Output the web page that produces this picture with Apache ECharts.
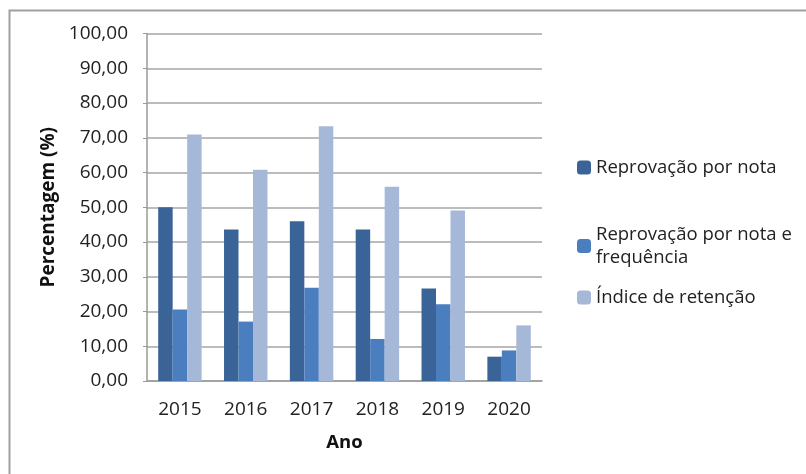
<!DOCTYPE html>
<html><head><meta charset="utf-8">
<script src="https://cdn.jsdelivr.net/npm/echarts@6/dist/echarts.min.js"></script>
<style>html,body{margin:0;padding:0;background:#fff}#c{width:806px;height:474px}</style>
</head><body><div id="c"></div>
<script>
const categories = ['2015','2016','2017','2018','2019','2020'];
const seriesNames = ['Reprovação por nota','Reprovação por nota e frequência','Índice de retenção'];
const reprovacaoNota = [50.0, 43.6, 46.0, 43.6, 26.6, 7.0];
const reprovacaoNotaFreq = [20.6, 17.1, 26.8, 12.1, 22.1, 8.8];
const indiceRetencao = [70.9, 60.8, 73.3, 55.9, 49.1, 16.0];
const colors = ['#3A6497', '#4B7EBE', '#A6B8D8'];
const font = 'Open Sans';

const chart = echarts.init(document.getElementById('c'));
const legendText = {fontFamily: font, fontSize: 18.5, color: '#222', lineHeight: 23};
chart.setOption({
  animation: false,
  color: colors,
  graphic: [{type:'rect', left: 7, top: 8, shape:{width: 900, height: 600}, style:{fill:'none', stroke:'#a0a0a0', lineWidth: 2}, silent: true}],
  grid: {left: 147, top: 33.5, right: 264, bottom: 93},
  legend: [
    {data:[seriesNames[0]], left: 572, top: 151, itemWidth: 14, itemHeight: 14, itemGap: 4, textStyle: legendText},
    {data:[seriesNames[1]], left: 572, top: 218, itemWidth: 14, itemHeight: 14, textStyle: legendText,
     formatter: n => 'Reprovação por nota e\nfrequência'},
    {data:[seriesNames[2]], left: 572, top: 281, itemWidth: 14, itemHeight: 14, textStyle: legendText}
  ],
  xAxis: {
    type: 'category', data: categories,
    name: 'Ano', nameLocation: 'middle', nameGap: 52,
    nameTextStyle: {fontFamily: font, fontSize: 18.5, fontWeight: 'bold', color: '#111'},
    axisLine: {lineStyle: {color: '#9a9a9a', width: 1.5}},
    axisTick: {show: false},
    axisLabel: {fontFamily: font, fontSize: 19, color: '#222', margin: 19}
  },
  yAxis: {
    type: 'value', min: 0, max: 100, interval: 10,
    name: 'Percentagem (%)', nameLocation: 'middle', nameGap: 89, nameRotate: 90,
    nameTextStyle: {fontFamily: font, fontSize: 19, fontWeight: 'bold', color: '#111'},
    axisLine: {show: true, lineStyle: {color: '#9a9a9a', width: 1.5}},
    axisTick: {show: true, length: 4, lineStyle: {color: '#9a9a9a'}},
    splitLine: {lineStyle: {color: '#a6a6a6', width: 1.5}},
    axisLabel: {fontFamily: font, fontSize: 19, color: '#222', margin: 19,
      formatter: v => v.toFixed(2).replace('.', ',')}
  },
  series: [
    {name: seriesNames[0], type: 'bar', data: reprovacaoNota, barGap: '0%', barCategoryGap: '34%'},
    {name: seriesNames[1], type: 'bar', data: reprovacaoNotaFreq, barGap: '0%', barCategoryGap: '34%'},
    {name: seriesNames[2], type: 'bar', data: indiceRetencao, barGap: '0%', barCategoryGap: '34%'}
  ]
});
</script></body></html>
